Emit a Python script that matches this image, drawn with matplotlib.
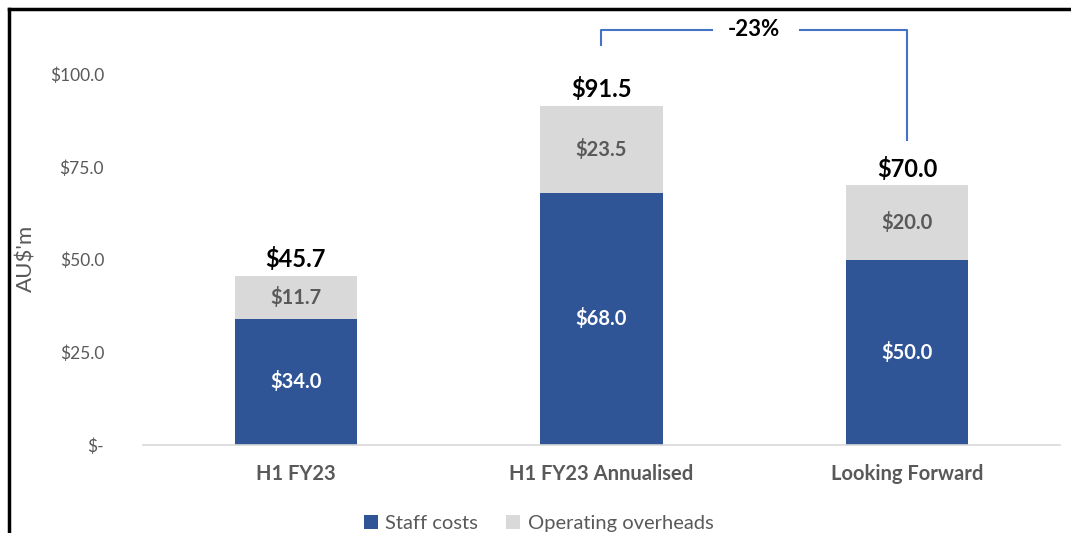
import matplotlib.pyplot as plt
from matplotlib.lines import Line2D
import numpy as np

plt.rcParams['font.family'] = ['Lato', 'DejaVu Sans']

# data
categories = ['H1 FY23', 'H1 FY23 Annualised', 'Looking Forward']
staff_costs = [34.0, 68.0, 50.0]
overheads = [11.7, 23.5, 20.0]
change_label = '-23%'

blue = '#2F5597'
grey = '#D9D9D9'
text_grey = '#595959'

fig = plt.figure(figsize=(10.71, 5.33), dpi=100)
ax = fig.add_axes([0.1335, 0.165, 0.8562, 0.8005])

x = np.arange(len(categories))
totals = [s + o for s, o in zip(staff_costs, overheads)]

b1 = ax.bar(x, staff_costs, width=0.4, color=blue, label='Staff costs')
b2 = ax.bar(x, overheads, width=0.4, bottom=staff_costs, color=grey, label='Operating overheads')

for i in x:
    ax.text(i, staff_costs[i] / 2, f'${staff_costs[i]:.1f}', ha='center', va='center',
            color='white', fontsize=14.5, fontweight='bold')
    ax.text(i, staff_costs[i] + overheads[i] / 2, f'${overheads[i]:.1f}', ha='center', va='center',
            color=text_grey, fontsize=14.5, fontweight='bold')
    ax.annotate(f'${totals[i]:.1f}', (i, totals[i]), xytext=(0, 3), textcoords='offset points',
                ha='center', va='bottom', color='black', fontsize=17, fontweight='bold')

# bracket showing change between annualised and forward
bc = '#4472C4'
top = 111.9
ax.plot([1, 1, 1.36], [107.8, top, top], color=bc, lw=1.5, clip_on=False)
ax.plot([1.65, 2, 2], [top, top, 82.2], color=bc, lw=1.5, clip_on=False)
ax.text(1.5, top, change_label, ha='center', va='center', fontsize=16, fontweight='bold')

ax.set_xlim(-0.5, 2.5)
ax.set_ylim(0, 115)
ax.set_yticks([0, 25, 50, 75, 100])
ax.set_yticklabels(['$-', '$25.0', '$50.0', '$75.0', '$100.0'])
ax.set_xticks(x)
ax.set_xticklabels(categories, fontweight='bold', fontsize=14.5)
ax.tick_params(length=0, labelcolor=text_grey)
ax.tick_params(axis='y', labelsize=12.5, pad=28)
ax.tick_params(axis='x', pad=14)
for s in ['top', 'right', 'left']:
    ax.spines[s].set_visible(False)
ax.spines['bottom'].set_color(grey)
ax.spines['bottom'].set_linewidth(1.2)
ax.set_ylabel("AU$'m", color=text_grey, fontsize=16, va='center')
ax.yaxis.set_label_coords(26 / 1071, 1 - 258 / 533, transform=fig.transFigure)

fig.legend(handles=[b1, b2], loc='center', bbox_to_anchor=(0.503, 0.017), ncol=2, frameon=False,
           fontsize=14.5, labelcolor=text_grey, handlelength=0.7, handleheight=0.7,
           columnspacing=1.4, handletextpad=0.35)

# screenshot border
fig.add_artist(Line2D([9 / 1071, 9 / 1071], [0, 1 - 9 / 533], color='black', lw=2.5))
fig.add_artist(Line2D([9 / 1071, 1], [1 - 9 / 533, 1 - 9 / 533], color='black', lw=2.5))

fig.savefig('out.png', dpi=100)
